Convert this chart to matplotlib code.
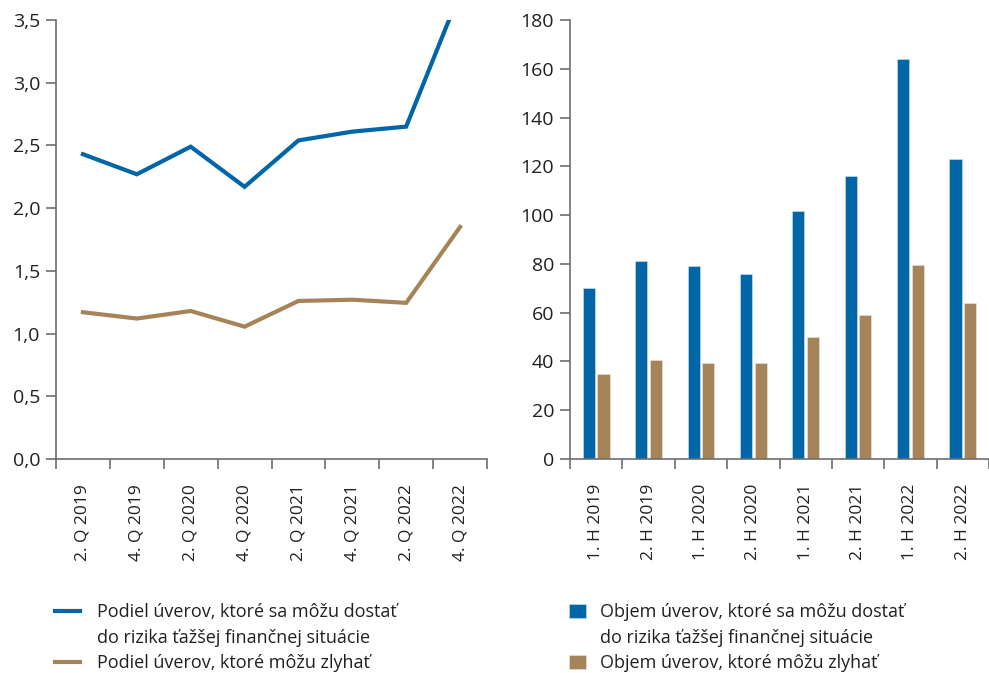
import numpy as np
import matplotlib
matplotlib.use("Agg")
from matplotlib import pyplot as plt
from matplotlib.lines import Line2D
from matplotlib.patches import Patch
from matplotlib.ticker import FixedLocator

plt.rcParams['font.family'] = ['Open Sans', 'DejaVu Sans']

# left panel: shares (%)
quarters = ["2. Q 2019", "4. Q 2019", "2. Q 2020", "4. Q 2020",
            "2. Q 2021", "4. Q 2021", "2. Q 2022", "4. Q 2022"]
share_distress = [2.43, 2.27, 2.49, 2.17, 2.54, 2.61, 2.65, 3.72]
share_default = [1.17, 1.12, 1.18, 1.055, 1.26, 1.27, 1.245, 1.85]
left_yticks = [0, 0.5, 1.0, 1.5, 2.0, 2.5, 3.0, 3.5]
left_ylabels = ["0,0", "0,5", "1,0", "1,5", "2,0", "2,5", "3,0", "3,5"]

# right panel: volumes
halves = ["1. H 2019", "2. H 2019", "1. H 2020", "2. H 2020",
          "1. H 2021", "2. H 2021", "1. H 2022", "2. H 2022"]
vol_distress = [70.0, 81.3, 79.1, 75.8, 101.8, 116.0, 163.9, 123.0]
vol_default = [34.7, 40.6, 39.5, 39.3, 49.9, 59.2, 79.4, 63.8]
right_yticks = [0, 20, 40, 60, 80, 100, 120, 140, 160, 180]

lab_share_1 = "Podiel úverov, ktoré sa môžu dostať"
lab_share_2 = "do rizika ťažšej finančnej situácie"
lab_share_default = "Podiel úverov, ktoré môžu zlyhať"
lab_vol_1 = "Objem úverov, ktoré sa môžu dostať"
lab_vol_2 = "do rizika ťažšej finančnej situácie"
lab_vol_default = "Objem úverov, ktoré môžu zlyhať"

blue = "#0066a8"
brown = "#a6845a"
txt = "#231f20"
spine_c = "#6d6e70"
fs_leg = 13
fs_y = 14
fs_x = 12.5

fig = plt.figure(figsize=(9.89, 6.73), dpi=100)
ax1 = fig.add_axes([56/989, 1-459/673, 431/989, 439/673])
ax2 = fig.add_axes([570/989, 1-459/673, 419/989, 439/673])


def style(ax, n):
    for s in ["top", "right"]:
        ax.spines[s].set_visible(False)
    for s in ["left", "bottom"]:
        ax.spines[s].set_color(spine_c)
        ax.spines[s].set_linewidth(1.2)
    ax.set_xlim(-0.5, n - 0.5)
    ax.xaxis.set_minor_locator(FixedLocator(np.arange(n + 1) - 0.5))
    ax.tick_params(axis="x", which="major", length=0, pad=18,
                   labelsize=fs_x, labelcolor=txt, labelrotation=90)
    ax.tick_params(axis="x", which="minor", length=7, width=1.2, color=spine_c)
    ax.tick_params(axis="y", length=7.5, width=1.2, color=spine_c,
                   labelsize=fs_y, labelcolor=txt, pad=4)


x = np.arange(len(quarters))
l1, = ax1.plot(x, share_distress, color=blue, lw=3, solid_joinstyle="miter")
l2, = ax1.plot(x, share_default, color=brown, lw=3, solid_joinstyle="miter")
style(ax1, len(quarters))
ax1.set_ylim(0, 3.5)
ax1.set_yticks(left_yticks)
ax1.set_yticklabels(left_ylabels)
ax1.set_xticks(x)
ax1.set_xticklabels(quarters, va="top")

xb = np.arange(len(halves))
w = 0.23
b1 = ax2.bar(xb - 0.14, vol_distress, w, color=blue, edgecolor="#d6e4ef",
             linewidth=0.4)
b2 = ax2.bar(xb + 0.14, vol_default, w, color=brown, edgecolor="#efe6dc",
             linewidth=0.4)
style(ax2, len(halves))
ax2.set_ylim(0, 180)
ax2.set_yticks(right_yticks)
ax2.set_xticks(xb)
ax2.set_xticklabels(halves, va="top")

# two-line labels: second line as an entry with an empty handle
blank_line = Line2D([], [], color="none")
blank_patch = Patch(facecolor="none", edgecolor="none")

ax1.legend([l1, blank_line, l2], [lab_share_1, lab_share_2, lab_share_default],
           loc="upper left", bbox_to_anchor=(55/989, 1-603/673),
           bbox_transform=fig.transFigure, frameon=False,
           fontsize=fs_leg, handlelength=1.4, handletextpad=0.9,
           labelspacing=0.42, borderpad=0, borderaxespad=0, labelcolor=txt)
ax2.legend([b1, blank_patch, b2], [lab_vol_1, lab_vol_2, lab_vol_default],
           loc="upper left", bbox_to_anchor=(569/989, 1-603/673),
           bbox_transform=fig.transFigure, frameon=False,
           fontsize=fs_leg, handlelength=0.92, handleheight=0.82,
           handletextpad=0.8, labelspacing=0.42, borderpad=0,
           borderaxespad=0, labelcolor=txt)

fig.savefig("out.png", dpi=100)
